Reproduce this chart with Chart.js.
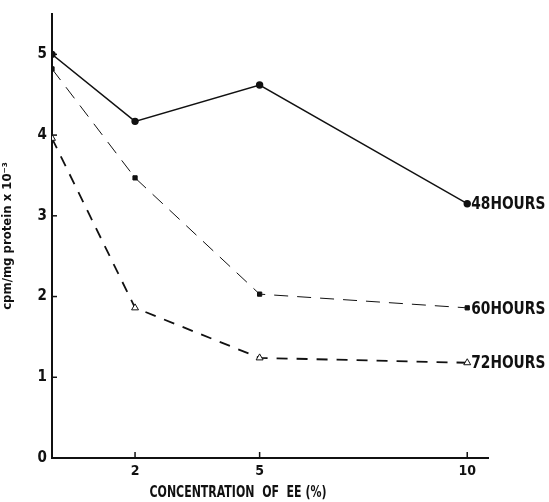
<!DOCTYPE html>
<html>
<head>
<meta charset="utf-8">
<script src="https://cdn.jsdelivr.net/npm/chart.js@4"></script>
<style>
  html, body { margin: 0; padding: 0; background: #fff; }
  #wrap { width: 549px; height: 502px; }
</style>
</head>
<body>
<div id="wrap"><canvas id="chart" width="549" height="502"></canvas></div>
<script>
// Concentration of EE (%) on x, cpm/mg protein x 10^-3 on y
const concentrations = [0, 2, 5, 10];
const hours48 = [5.0, 4.17, 4.62, 3.15];
const hours60 = [4.82, 3.47, 2.03, 1.86];
const hours72 = [3.96, 1.86, 1.24, 1.18];
const seriesLabels = ['48HOURS', '60HOURS', '72HOURS'];
const xTicks = [2, 5, 10];
const yTicks = [0, 1, 2, 3, 4, 5];
const xTitle = 'CONCENTRATION  OF  EE (%)';

const FONT = "'DejaVu Sans Condensed', 'Liberation Sans Narrow', sans-serif";

function toPoints(values) {
    return concentrations.map((c, i) => ({ x: c, y: values[i] }));
}

// Short tick marks pointing into the plot, series names at line ends, x title
const paperMarks = {
    id: 'paperMarks',
    afterDraw(chart) {
        const ctx = chart.ctx;
        const xs = chart.scales.x, ys = chart.scales.y;
        ctx.save();
        ctx.strokeStyle = '#111';
        ctx.lineWidth = 1.5;
        yTicks.forEach(v => {
            const py = ys.getPixelForValue(v);
            ctx.beginPath();
            ctx.moveTo(xs.left, py);
            ctx.lineTo(xs.left + 5, py);
            ctx.stroke();
        });
        xTicks.forEach(v => {
            const px = xs.getPixelForValue(v);
            ctx.beginPath();
            ctx.moveTo(px, ys.bottom);
            ctx.lineTo(px, ys.bottom - 6);
            ctx.stroke();
        });
        ctx.fillStyle = '#111';
        ctx.font = 'bold 18px ' + FONT;
        ctx.textBaseline = 'middle';
        chart.data.datasets.forEach((ds, i) => {
            const pts = chart.getDatasetMeta(i).data;
            const last = pts[pts.length - 1];
            // old stencil lettering is narrow, so squeeze it sideways
            ctx.save();
            ctx.translate(last.x + 4, last.y + 1);
            ctx.scale(0.85, 1);
            ctx.fillText(seriesLabels[i], 0, 0);
            ctx.restore();
        });

        // axis title sits a bit left of the plot centre in the original
        ctx.font = 'bold 16px ' + FONT;
        ctx.textAlign = 'center';
        const w = ctx.measureText(xTitle).width;
        ctx.translate(xs.left + 186, xs.bottom - 9);
        ctx.scale(177 / w, 1);
        ctx.fillText(xTitle, 0, 0);
        ctx.restore();
    }
};

new Chart(document.getElementById('chart').getContext('2d'), {
    type: 'line',
    data: {
        datasets: [{
            label: seriesLabels[0],
            data: toPoints(hours48),
            borderColor: '#111',
            borderWidth: 1.4,
            pointStyle: 'circle',
            pointRadius: 3,
            backgroundColor: '#111'
        }, {
            label: seriesLabels[1],
            data: toPoints(hours60),
            borderColor: '#111',
            borderWidth: 1,
            borderDash: [14, 9],
            pointStyle: 'rect',
            pointRadius: 3,
            backgroundColor: '#111'
        }, {
            label: seriesLabels[2],
            data: toPoints(hours72),
            borderColor: '#111',
            borderWidth: 1.8,
            borderDash: [11, 9],
            pointStyle: 'triangle',
            pointRadius: 4,
            pointBorderWidth: 1,
            backgroundColor: '#fff'
        }]
    },
    options: {
        responsive: false,
        animation: false,
        layout: { padding: { top: 9, right: 61, left: 0, bottom: 0 } },
        plugins: {
            legend: { display: false },
            tooltip: { enabled: false }
        },
        scales: {
            x: {
                type: 'linear',
                min: 0,
                max: 10.5,
                afterBuildTicks: s => { s.ticks = xTicks.map(v => ({ value: v })); },
                afterFit: s => { s.height = 44; },
                grid: { display: true, drawOnChartArea: false, drawTicks: false },
                border: { color: '#111', width: 2 },
                ticks: {
                    padding: 5,
                    color: '#111',
                    font: { family: FONT, size: 14, weight: 'bold' }
                },
                title: { display: false }
            },
            y: {
                min: 0,
                max: 5.5,
                afterBuildTicks: s => { s.ticks = yTicks.map(v => ({ value: v })); },
                afterFit: s => { s.width = 52; },
                grid: { display: true, drawOnChartArea: false, drawTicks: false },
                border: { color: '#111', width: 2 },
                ticks: {
                    padding: 5,
                    color: '#111',
                    font: { family: FONT, size: 15, weight: 'bold' }
                },
                title: {
                    display: true,
                    text: 'cpm/mg protein x 10⁻³',
                    color: '#111',
                    padding: { top: 0, bottom: 0 },
                    font: { family: FONT, size: 13, weight: 'bold' }
                }
            }
        }
    },
    plugins: [paperMarks]
});
</script>
</body>
</html>
